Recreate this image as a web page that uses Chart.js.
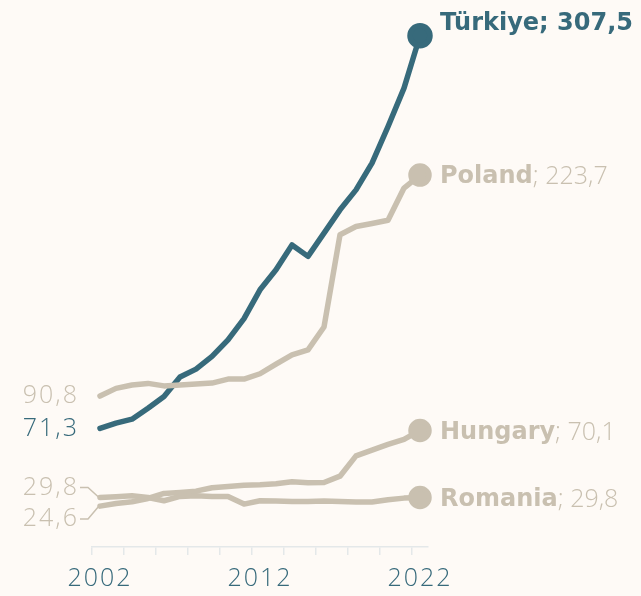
<!DOCTYPE html>
<html>
<head>
<meta charset="utf-8">
<script src="https://cdn.jsdelivr.net/npm/chart.js@4/dist/chart.umd.min.js"></script>
<style>
  html, body { margin: 0; padding: 0; background: #fefaf6; }
  #wrap { width: 641px; height: 596px; }
</style>
</head>
<body>
<div id="wrap"><canvas id="grafica" width="641" height="596"></canvas></div>
<script>
// Datos
const anios = ['2002', '2003', '2004', '2005', '2006', '2007', '2008', '2009', '2010', '2011',
    '2012', '2013', '2014', '2015', '2016', '2017', '2018', '2019', '2020', '2021', '2022'];
const turkiye = [71.3, 74.5, 76.9, 83.5, 90.5, 102.2, 107.0, 114.6, 124.6, 137.4,
    154.7, 166.7, 181.7, 174.8, 188.8, 202.8, 214.8, 230.9, 252.9, 276.0, 307.5];
const poland = [90.8, 95.4, 97.4, 98.4, 96.9, 97.4, 98.0, 98.6, 101.0, 101.0,
    104.2, 110.0, 115.6, 118.6, 132.3, 187.8, 192.8, 194.6, 196.5, 215.9, 223.7];
const hungary = [24.6, 26.2, 27.2, 29.2, 32.2, 32.8, 33.6, 35.6, 36.4, 37.2,
    37.4, 38.0, 39.2, 38.6, 38.8, 42.6, 54.8, 58.3, 61.7, 64.7, 70.1];
const romania = [29.8, 30.2, 30.8, 29.8, 27.8, 30.4, 30.8, 30.4, 30.4, 25.8,
    27.8, 27.6, 27.3, 27.3, 27.6, 27.3, 27.1, 27.1, 28.4, 29.4, 29.8];
const paises = ['Türkiye', 'Poland', 'Hungary', 'Romania'];
const etiquetasX = ['2002', '2012', '2022'];

const TEAL = '#376a7b';
const BEIGE = '#c9c0b0';
const LIGERA = "'Open Sans', sans-serif";
const NEGRITA = "'DejaVu Sans', sans-serif";

const fmt = v => v.toFixed(1).replace('.', ',');

// Etiquetas de inicio y fin de cada serie
const etiquetas = {
    id: 'etiquetas',
    afterDatasetsDraw(chart) {
        const ctx = chart.ctx;
        ctx.save();
        chart.data.datasets.forEach((ds, i) => {
            const meta = chart.getDatasetMeta(i);
            const first = meta.data[0];
            const last = meta.data[meta.data.length - 1];
            const color = ds.borderColor;
            const v0 = ds.data[0];
            const v1 = ds.data[ds.data.length - 1];

            // valor inicial a la izquierda
            ctx.letterSpacing = '2px';
            ctx.font = '300 25px ' + LIGERA;
            ctx.fillStyle = color;
            ctx.textAlign = 'right';
            ctx.textBaseline = 'middle';
            let dy = 0;
            if (ds.label === 'Romania') dy = -10;
            if (ds.label === 'Hungary') dy = 13;
            const ly = first.y + dy;
            ctx.fillText(fmt(v0), 79, ly);
            if (dy !== 0) {
                ctx.strokeStyle = color;
                ctx.lineWidth = 1.5;
                ctx.beginPath();
                ctx.moveTo(80, ly);
                ctx.lineTo(88, ly);
                ctx.lineTo(first.x - 1, first.y);
                ctx.stroke();
            }

            // nombre y valor final a la derecha
            ctx.letterSpacing = '0px';
            const x = last.x + 20;
            const y = ds.label === 'Türkiye' ? last.y - 12 : last.y + 2;
            ctx.textAlign = 'left';
            ctx.font = 'bold 24px ' + NEGRITA;
            if (ds.label === 'Türkiye') {
                ctx.fillText(ds.label + '; ' + fmt(v1), x, y);
            } else {
                ctx.fillText(ds.label, x, y);
                const w = ctx.measureText(ds.label).width;
                ctx.font = '300 25px ' + LIGERA;
                ctx.fillText('; ' + fmt(v1), x + w, y);
            }
        });
        ctx.restore();
    }
};

const fondo = {
    id: 'fondo',
    beforeDraw(chart) {
        const ctx = chart.ctx;
        ctx.fillStyle = '#fefaf6';
        ctx.fillRect(0, 0, chart.width, chart.height);
        // espaciado de las etiquetas del eje
        ctx.letterSpacing = '2px';
    }
};

function serie(label, data, color, radio) {
    return {
        label: label,
        data: data,
        borderColor: color,
        backgroundColor: color,
        borderWidth: 5.5,
        borderJoinStyle: 'round',
        borderCapStyle: 'round',
        pointRadius: c => c.dataIndex === data.length - 1 ? radio : 0,
        pointHoverRadius: 0,
        clip: false,
        tension: 0
    };
}

const ctxGrafica = document.getElementById('grafica').getContext('2d');
new Chart(ctxGrafica, {
    type: 'line',
    data: {
        labels: anios,
        datasets: [
            serie(paises[3], romania, BEIGE, 9),
            serie(paises[2], hungary, BEIGE, 9),
            serie(paises[1], poland, BEIGE, 9),
            serie(paises[0], turkiye, TEAL, 10)
        ]
    },
    options: {
        responsive: false,
        animation: false,
        layout: {
            autoPadding: false,
            padding: { left: 92, right: 213, top: 0, bottom: 0 }
        },
        plugins: {
            legend: { display: false },
            tooltip: { enabled: false }
        },
        scales: {
            x: {
                type: 'category',
                offset: true,
                afterFit(scale) { scale.height = 49; },
                border: { display: true, color: '#e4e8e9', width: 1.5 },
                grid: {
                    offset: true,
                    drawOnChartArea: false,
                    drawTicks: true,
                    tickLength: 8,
                    lineWidth: 1.5,
                    color: c => (c.index !== undefined && c.index % 2 === 0) ? '#e4e8e9' : 'rgba(0,0,0,0)'
                },
                ticks: {
                    autoSkip: false,
                    maxRotation: 0,
                    padding: 9,
                    color: TEAL,
                    font: { family: LIGERA, size: 25, weight: '300' },
                    callback: function (value) {
                        const l = this.getLabelForValue(value);
                        return etiquetasX.includes(l) ? l : '';
                    }
                }
            },
            y: {
                display: false,
                min: 0,
                max: 329
            }
        }
    },
    plugins: [fondo, etiquetas]
});
</script>
</body>
</html>
